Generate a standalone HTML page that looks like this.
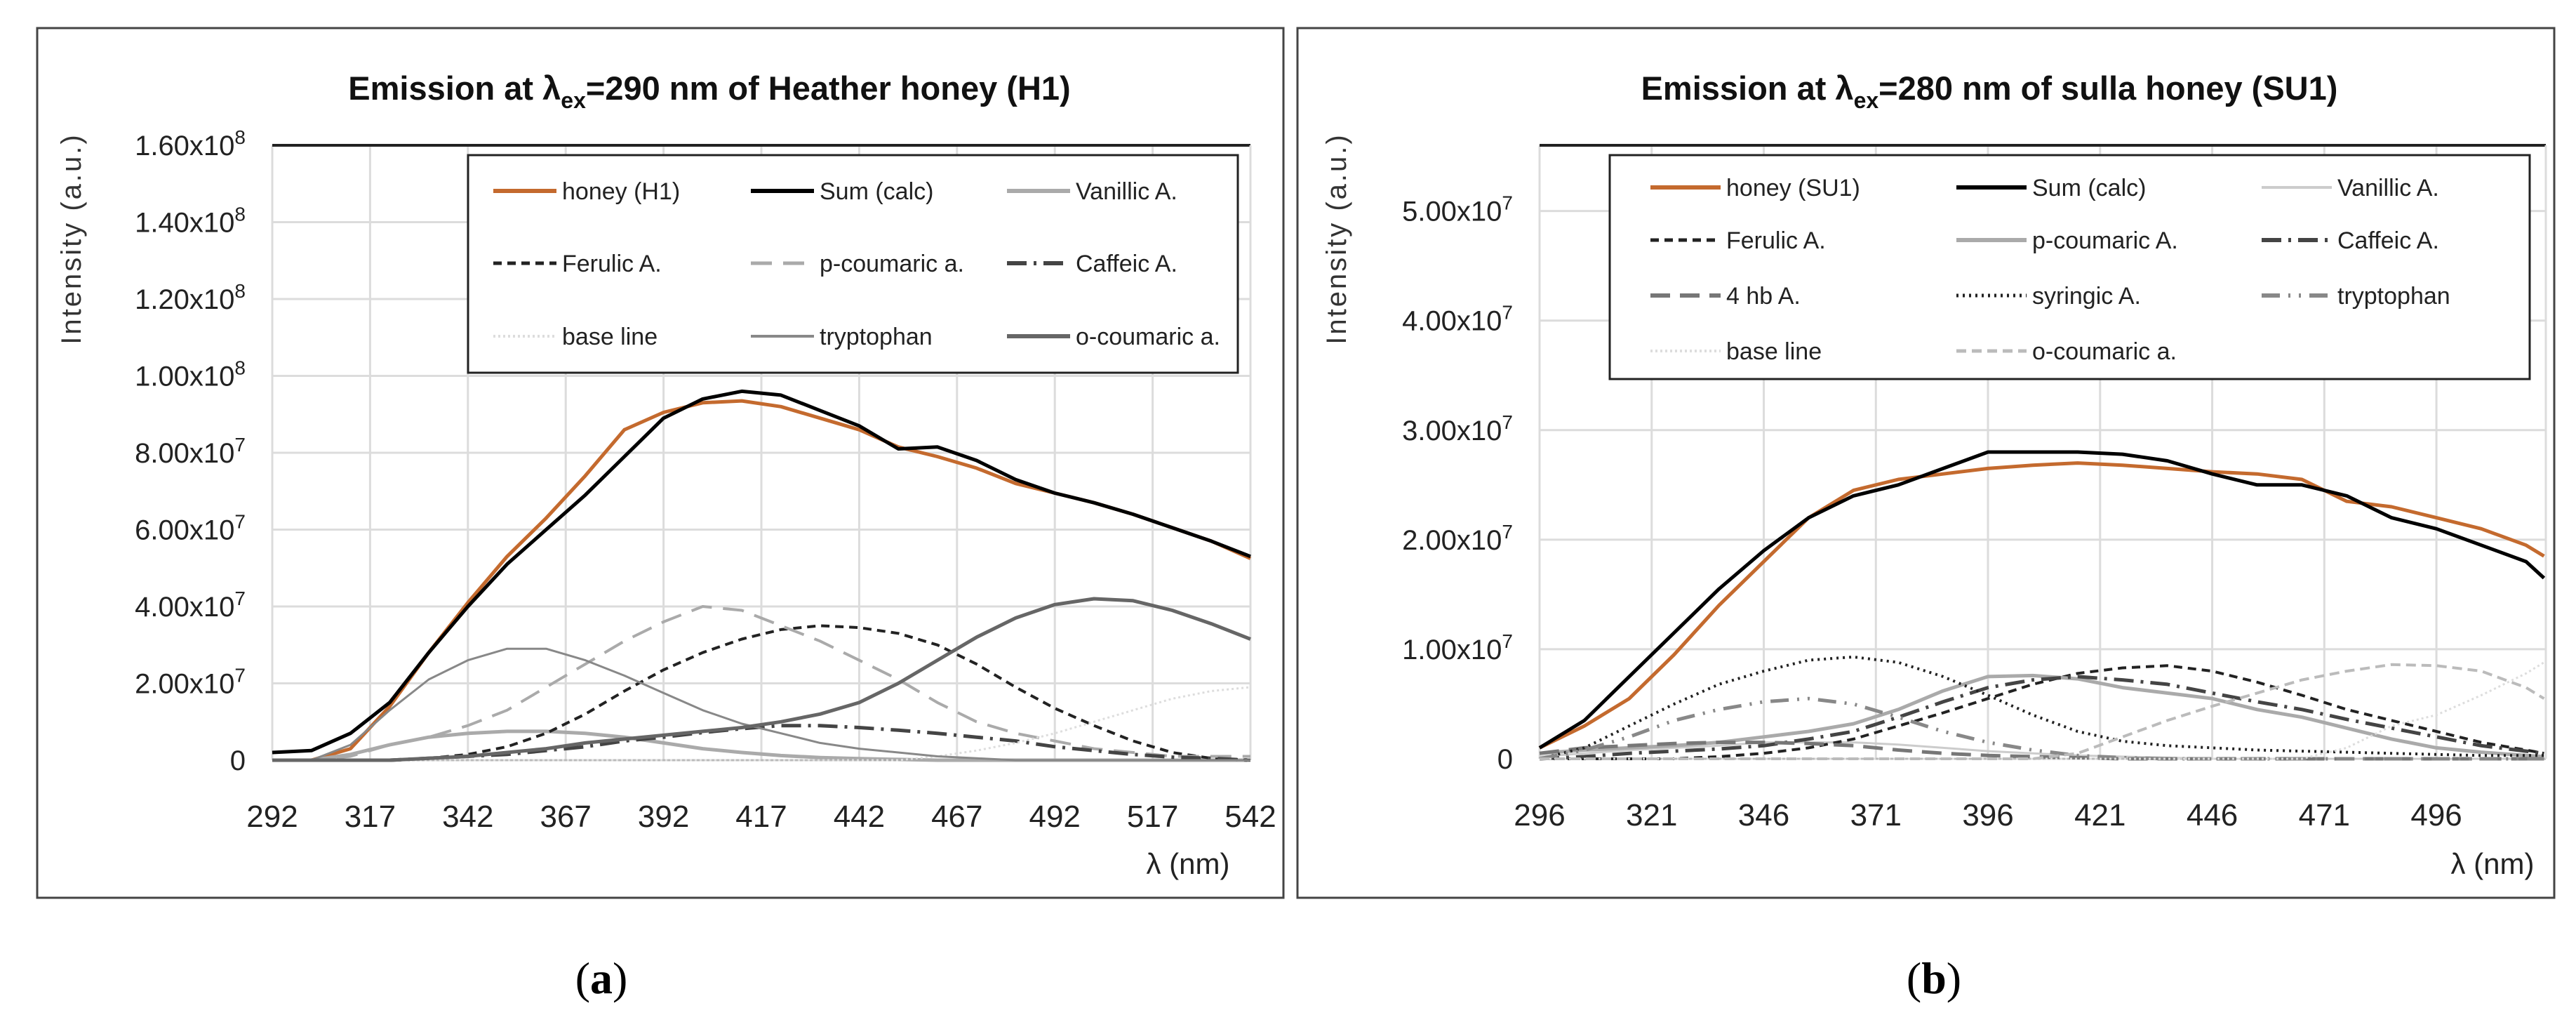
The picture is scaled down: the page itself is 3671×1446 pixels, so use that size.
<!DOCTYPE html>
<html><head><meta charset="utf-8"><style>
html,body{margin:0;padding:0;background:#fff;}
svg text{font-family:"Liberation Sans",sans-serif;}
</style></head><body>
<svg id="fig" xmlns="http://www.w3.org/2000/svg" width="3671" height="1441" viewBox="0 0 3671 1441">
<rect x="0" y="0" width="3671" height="1441" fill="#fff"/>
<rect x="53" y="40" width="1776" height="1239" fill="none" stroke="#444" stroke-width="3"/>
<rect x="1849" y="40" width="1791" height="1239" fill="none" stroke="#444" stroke-width="3"/>
<text x="857" y="1415" text-anchor="middle" font-size="64" style="font-family:'Liberation Serif',serif">(<tspan font-weight="bold">a</tspan>)</text>
<text x="2756" y="1415" text-anchor="middle" font-size="64" style="font-family:'Liberation Serif',serif">(<tspan font-weight="bold">b</tspan>)</text>
<g id="chartA"></g>
<g id="chartB"></g>
</svg>
<script>
// ===== Chart A data (values in 1e7 units) =====
const xsA = [292,302,312,322,332,342,352,362,372,382,392,402,412,422,432,442,452,462,472,482,492,502,512,522,532,542];
const honeyA   = [0,0,0.3,1.4,2.8,4.1,5.3,6.3,7.4,8.6,9.05,9.3,9.35,9.2,8.9,8.6,8.15,7.9,7.6,7.2,6.95,6.7,6.4,6.05,5.7,5.25];
const sumA     = [0.2,0.25,0.7,1.5,2.8,4.0,5.1,6.0,6.9,7.9,8.9,9.4,9.6,9.5,9.1,8.7,8.1,8.15,7.8,7.3,6.95,6.7,6.4,6.05,5.7,5.3];
const vanA     = [0,0,0.15,0.4,0.6,0.7,0.75,0.75,0.7,0.6,0.45,0.3,0.2,0.12,0.07,0.04,0.02,0,0,0,0,0,0,0,0,0];
const ferA     = [0,0,0,0,0.05,0.15,0.35,0.7,1.2,1.8,2.35,2.8,3.15,3.4,3.5,3.45,3.3,3.0,2.5,1.9,1.35,0.9,0.5,0.2,0.05,0];
const pcouA    = [0,0,0.1,0.4,0.6,0.9,1.3,1.9,2.5,3.1,3.6,4.0,3.9,3.5,3.1,2.6,2.1,1.5,1.0,0.7,0.5,0.3,0.2,0.1,0.1,0.1];
const cafA     = [0,0,0,0,0.05,0.1,0.15,0.25,0.35,0.5,0.6,0.72,0.82,0.9,0.9,0.85,0.78,0.7,0.6,0.5,0.35,0.25,0.15,0.08,0.05,0];
const baseA    = [0,0,0,0,0,0,0,0,0,0,0,0,0,0,0,0,0,0.1,0.25,0.45,0.7,1.0,1.3,1.6,1.8,1.9];
const tryA     = [0,0,0.4,1.3,2.1,2.6,2.9,2.9,2.6,2.2,1.75,1.3,0.95,0.7,0.45,0.3,0.2,0.1,0.05,0,0,0,0,0,0,0];
const ocouA    = [0,0,0,0,0.05,0.1,0.2,0.3,0.45,0.55,0.65,0.75,0.85,1.0,1.2,1.5,2.0,2.6,3.2,3.7,4.05,4.2,4.15,3.9,3.55,3.15];
const xTicksA = [292,317,342,367,392,417,442,467,492,517,542];
const yTicksA = [0,2,4,6,8,10,12,14,16];
const yLabelsA = ["0","2.00x10|7","4.00x10|7","6.00x10|7","8.00x10|7","1.00x10|8","1.20x10|8","1.40x10|8","1.60x10|8"];

// ===== Chart B data (values in 1e7 units) =====
const xsB = [296,306,316,326,336,346,356,366,376,386,396,406,416,426,436,446,456,466,476,486,496,506,516,520];
const honeyB = [0.1,0.3,0.55,0.95,1.4,1.8,2.2,2.45,2.55,2.6,2.65,2.68,2.7,2.68,2.65,2.62,2.6,2.55,2.35,2.3,2.2,2.1,1.95,1.85];
const sumB   = [0.1,0.35,0.75,1.15,1.55,1.9,2.2,2.4,2.5,2.65,2.8,2.8,2.8,2.78,2.72,2.6,2.5,2.5,2.4,2.2,2.1,1.95,1.8,1.65];
const vanB   = [0.02,0.05,0.08,0.1,0.12,0.15,0.15,0.15,0.13,0.1,0.07,0.05,0.03,0.02,0.01,0,0,0,0,0,0,0,0,0];
const ferB   = [0,0,0,0,0.02,0.05,0.1,0.18,0.3,0.42,0.55,0.68,0.78,0.83,0.85,0.8,0.7,0.58,0.45,0.35,0.25,0.15,0.08,0.05];
const pcouB  = [0.05,0.08,0.1,0.12,0.15,0.2,0.25,0.32,0.45,0.62,0.75,0.76,0.73,0.65,0.6,0.55,0.45,0.38,0.28,0.18,0.1,0.06,0.03,0.02];
const cafB   = [0,0.02,0.05,0.07,0.09,0.12,0.18,0.25,0.38,0.52,0.65,0.72,0.75,0.72,0.68,0.6,0.52,0.45,0.36,0.28,0.2,0.12,0.07,0.05];
const hbB    = [0.05,0.1,0.12,0.14,0.15,0.15,0.14,0.12,0.08,0.05,0.03,0.02,0.01,0,0,0,0,0,0,0,0,0,0,0];
const syrB   = [0,0.1,0.3,0.5,0.68,0.8,0.9,0.93,0.88,0.75,0.58,0.4,0.25,0.16,0.12,0.1,0.08,0.07,0.06,0.05,0.04,0.03,0.03,0.03];
const tryB   = [0,0.08,0.2,0.35,0.45,0.52,0.55,0.5,0.38,0.25,0.15,0.08,0.03,0.01,0,0,0,0,0,0,0,0,0,0];
const baseB  = [0,0,0,0,0,0,0,0,0,0,0,0,0,0,0,0,0,0,0.1,0.3,0.4,0.58,0.78,0.88];
const ocouB  = [0,0,0,0,0,0,0,0,0,0,0,0,0.05,0.2,0.35,0.48,0.6,0.72,0.8,0.86,0.85,0.8,0.65,0.55];
const xTicksB = [296,321,346,371,396,421,446,471,496];
const yTicksB = [0,1,2,3,4,5];
const yLabelsB = ["0","1.00x10|7","2.00x10|7","3.00x10|7","4.00x10|7","5.00x10|7"];

const NS = "http://www.w3.org/2000/svg";
function mk(tag, attrs, parent){ const e=document.createElementNS(NS,tag); for(const k in attrs) e.setAttribute(k,attrs[k]); parent.appendChild(e); return e; }

function draw(g, cfg){
  const {L,R,T,B,xmin,xmax,ymax} = cfg;
  const sx = v => L + (v-xmin)/(xmax-xmin)*(R-L);
  const sy = v => B - v/ymax*(B-T);
  cfg.xTicks.forEach(t=>{
    const l=mk('line',{x1:sx(t),x2:sx(t),y1:T,y2:B,stroke:'#dcdcdc','stroke-width':3},g);
    
    
    const tx=mk('text',{x:sx(t),y:B+95,'text-anchor':'middle','font-size':44,fill:'#222'},g);
    tx.textContent=t;
    
    
  });
  cfg.yTicks.forEach((t,i)=>{
    if(t>0){
      const l=mk('line',{x1:L,x2:R,y1:sy(t),y2:sy(t),stroke:'#dcdcdc','stroke-width':3},g);
      
      
    }
    const parts=cfg.yLabels[i].split('|');
    const tx=mk('text',{x:L-38,y:sy(t)+14,'text-anchor':'end','font-size':40,fill:'#222'},g);
    tx.textContent=parts[0];
    if(parts[1]){ const s=mk('tspan',{dy:-16,'font-size':28},tx); s.textContent=parts[1]; }
    
    
  });
  const top=mk('line',{x1:L,x2:R,y1:T,y2:T,stroke:'#222','stroke-width':4},g);
   
  const bot=mk('line',{x1:L,x2:R,y1:B,y2:B,stroke:'#bbb','stroke-width':3},g);
   
  const rgt=mk('line',{x1:R,x2:R,y1:T,y2:B,stroke:'#dcdcdc','stroke-width':3},g);
   
  cfg.series.forEach(s=>{
    const d = cfg.xs.map((x,i)=>(i?'L':'M')+sx(Math.min(x,xmax)).toFixed(1)+' '+sy(s.data[i]).toFixed(1)).join(' ');
    const p=mk('path',{d:d,fill:'none',stroke:s.color,'stroke-width':s.w,'stroke-dasharray':s.dash||'none','stroke-linejoin':'round'},g);
    
    
  });
  const lg=cfg.legend;
  const box=mk('rect',{x:lg.x,y:lg.y,width:lg.w,height:lg.h,fill:'#fff',stroke:'#222','stroke-width':3},g);
   
  cfg.series.forEach((s,i)=>{
    const c=lg.order[i]; const col=c[0], row=c[1];
    const lx=lg.cols[col], ly=lg.rows[row];
    const ll=mk('line',{x1:lx,x2:lx+lg.lineLen,y1:ly,y2:ly,stroke:s.color,'stroke-width':s.w+1,'stroke-dasharray':s.dash||'none'},g);
    
    
    const t=mk('text',{x:lx+lg.lineLen+8,y:ly+12,'font-size':34,fill:'#222'},g);
    t.textContent=s.label;
    
    
  });
  const ti=mk('text',{x:cfg.titleX,y:142,'text-anchor':'middle','font-size':47,'font-weight':'bold',fill:'#111'},g);
  ti.textContent='Emission at λ';
  const sub=mk('tspan',{dy:12,'font-size':32},ti); sub.textContent='ex';
  const rest=mk('tspan',{dy:-12},ti); rest.textContent=cfg.titleRest;
  
  
  const ya=mk('text',{x:0,y:0,'text-anchor':'middle','font-size':40,fill:'#333',transform:`translate(${cfg.yTitleX},340) rotate(-90)`,'letter-spacing':3},g);
  ya.textContent='Intensity (a.u.)';
  
  
  const xa=mk('text',{x:cfg.xTitleX,y:1245,'text-anchor':'middle','font-size':42,fill:'#222'},g);
  xa.textContent='λ (nm)';
  
  
}

draw(document.getElementById('chartA'),{
  L:388,R:1782,T:207,B:1083,xmin:292,xmax:542,ymax:16,xs:xsA,
  xTicks:xTicksA,yTicks:yTicksA,yLabels:yLabelsA,titleX:1011,titleRest:'=290 nm of Heather honey (H1)',yTitleX:115,xTitleX:1693,
  series:[
    {name:'series-honey-h1',label:'honey (H1)',data:honeyA,color:'#c46a2e',w:5},
    {name:'series-sum-calc',label:'Sum (calc)',data:sumA,color:'#000',w:5},
    {name:'series-vanillic',label:'Vanillic A.',data:vanA,color:'#aaa',w:5},
    {name:'series-ferulic',label:'Ferulic A.',data:ferA,color:'#222',w:4,dash:'12 8'},
    {name:'series-p-coumaric',label:'p-coumaric a.',data:pcouA,color:'#aaa',w:4,dash:'30 16'},
    {name:'series-caffeic',label:'Caffeic A.',data:cafA,color:'#444',w:5,dash:'28 10 4 10'},
    {name:'series-baseline',label:'base line',data:baseA,color:'#ddd',w:3,dash:'3 4'},
    {name:'series-tryptophan',label:'tryptophan',data:tryA,color:'#888',w:3},
    {name:'series-o-coumaric',label:'o-coumaric a.',data:ocouA,color:'#666',w:5}
  ],
  legend:{x:667,y:221,w:1097,h:310,cols:[703,1070,1435],rows:[272,375,479],lineLen:90,
    order:[[0,0],[1,0],[2,0],[0,1],[1,1],[2,1],[0,2],[1,2],[2,2]]}
});

draw(document.getElementById('chartB'),{
  L:2194,R:3628,T:207,B:1081,xmin:296,xmax:520.4,ymax:5.6,xs:xsB,
  xTicks:xTicksB,yTicks:yTicksB,yLabels:yLabelsB,titleX:2835,titleRest:'=280 nm of sulla honey (SU1)',yTitleX:1918,xTitleX:3552,
  series:[
    {name:'series-honey-su1',label:'honey (SU1)',data:honeyB,color:'#c46a2e',w:5},
    {name:'series-sum-calc',label:'Sum (calc)',data:sumB,color:'#000',w:5},
    {name:'series-vanillic',label:'Vanillic A.',data:vanB,color:'#ccc',w:3},
    {name:'series-ferulic',label:'Ferulic A.',data:ferB,color:'#222',w:4,dash:'12 8'},
    {name:'series-p-coumaric',label:'p-coumaric A.',data:pcouB,color:'#aaa',w:5},
    {name:'series-caffeic',label:'Caffeic A.',data:cafB,color:'#444',w:5,dash:'28 10 4 10'},
    {name:'series-4hb',label:'4 hb A.',data:hbB,color:'#777',w:5,dash:'28 14'},
    {name:'series-syringic',label:'syringic A.',data:syrB,color:'#222',w:4,dash:'3 6'},
    {name:'series-tryptophan',label:'tryptophan',data:tryB,color:'#888',w:5,dash:'26 12 3 12 3 12'},
    {name:'series-baseline',label:'base line',data:baseB,color:'#ddd',w:3,dash:'3 4'},
    {name:'series-o-coumaric',label:'o-coumaric a.',data:ocouB,color:'#bbb',w:4,dash:'14 8'}
  ],
  legend:{x:2294,y:221,w:1311,h:319,cols:[2352,2788,3223],rows:[267,342,421,500],lineLen:100,
    order:[[0,0],[1,0],[2,0],[0,1],[1,1],[2,1],[0,2],[1,2],[2,2],[0,3],[1,3]]}
});
</script>
</body></html>
